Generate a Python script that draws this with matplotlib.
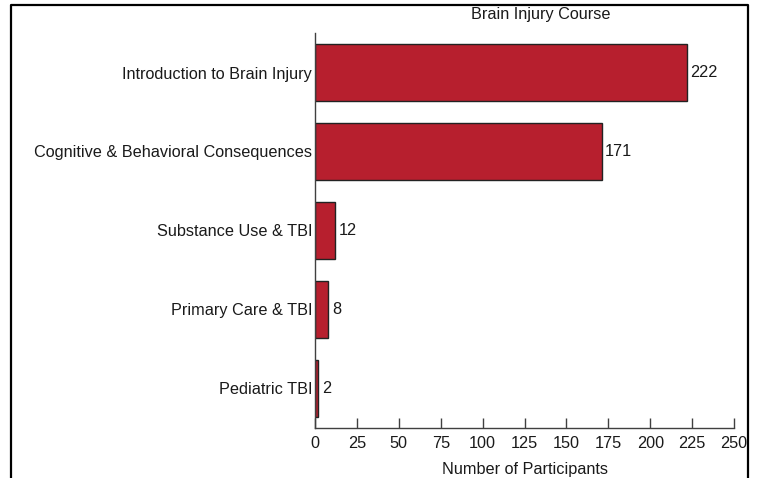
import matplotlib
matplotlib.use("Agg")
import matplotlib.pyplot as plt
from matplotlib.lines import Line2D

plt.rcParams["font.family"] = ["Liberation Sans", "DejaVu Sans"]

courses = ["Introduction to Brain Injury", "Cognitive & Behavioral Consequences",
           "Substance Use & TBI", "Primary Care & TBI", "Pediatric TBI"]
participants = [222, 171, 12, 8, 2]
x_ticks = [0, 25, 50, 75, 100, 125, 150, 175, 200, 225, 250]

C_BAR = "#B71F2E"
C_AX = "#404040"
C_TXT = "#1a1a1a"
FS = 11.7

W, H = 761, 478
fig = plt.figure(figsize=(W / 100, H / 100), dpi=100)
ax = fig.add_axes([315 / W, (H - 428) / H, 419 / W, 395 / H])

ypos = list(range(len(courses)))
bars = ax.barh(ypos, participants, height=0.73, color=C_BAR,
               edgecolor="#222222", linewidth=1.0)
for b, v in zip(bars, participants):
    ax.annotate(str(v), (b.get_width(), b.get_y() + b.get_height() / 2),
                xytext=(2.5, 0), textcoords="offset points",
                ha="left", va="center", fontsize=FS, color=C_TXT)

ax.set_xlim(0, 250)
ax.set_ylim(len(courses) - 0.5, -0.5)
ax.set_yticks(ypos)
ax.set_yticklabels(courses, fontsize=FS, color=C_TXT)
ax.set_xticks(x_ticks)
ax.set_xticklabels([str(t) for t in x_ticks], fontsize=FS, color=C_TXT)
ax.tick_params(axis="y", length=0, pad=2)
ax.tick_params(axis="x", direction="in", length=7.2, width=1, color=C_AX, pad=6)
for s in ("top", "right"):
    ax.spines[s].set_visible(False)
for s in ("left", "bottom"):
    ax.spines[s].set_color(C_AX)
    ax.spines[s].set_linewidth(1.0)
ax.set_xlabel("Number of Participants", fontsize=FS, color=C_TXT, labelpad=7.5)

fig.text(541 / W, 1 - 15 / H, "Brain Injury Course", ha="center", va="center",
         fontsize=FS, color=C_TXT)

# outer frame (open at the bottom)
fx = [10.7 / W, 10.7 / W, 747.5 / W, 747.5 / W]
fy = [0, 1 - 5 / H, 1 - 5 / H, 0]
fig.add_artist(Line2D(fx, fy, transform=fig.transFigure, color="black", lw=1.6))

fig.savefig("out.png", dpi=100)
